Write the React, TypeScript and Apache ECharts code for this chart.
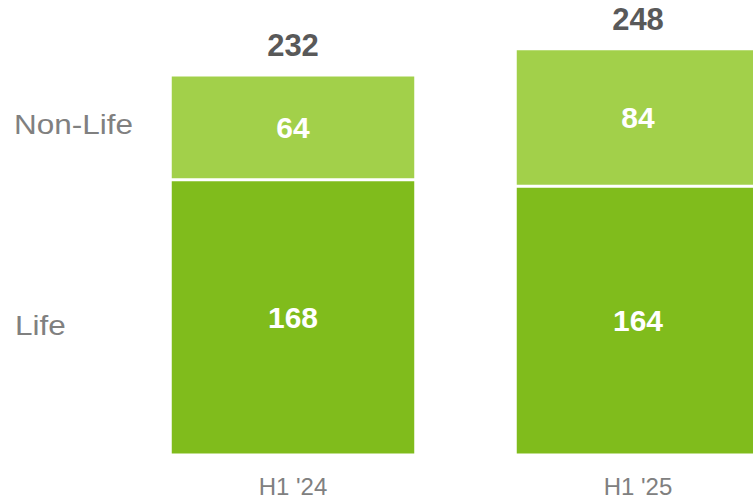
import React, { useEffect, useRef } from "react";
import * as echarts from "echarts";

const categories = ["H1 '24", "H1 '25"];
const seriesNames = ["Life", "Non-Life"];
const lifeValues = [168, 164];
const nonLifeValues = [64, 84];
const totals = [232, 248];

export default function App() {
  const ref = useRef<HTMLDivElement>(null);
  useEffect(() => {
    if (!ref.current) return;
    const chart = echarts.init(ref.current, null, { renderer: "svg" });
    const font = "'Liberation Sans', Arial, sans-serif";
    const innerLabel = {
      show: true,
      position: "inside",
      color: "#ffffff",
      fontSize: 30,
      fontWeight: "bold",
      fontFamily: font,
    };
    chart.setOption({
      animation: false,
      backgroundColor: "#ffffff",
      grid: { left: 293, right: 115, top: 45.5, height: 409.5 },
      xAxis: {
        type: "category",
        data: categories,
        boundaryGap: false,
        axisLine: { show: false },
        axisTick: { show: false },
        splitLine: { show: false },
        axisLabel: { color: "#808080", fontSize: 24, fontFamily: font, margin: 19 },
      },
      yAxis: { type: "value", min: 0, max: 250, show: false, splitLine: { show: false } },
      graphic: [
        {
          type: "text",
          x: 14,
          y: 110,
          scaleX: 1.125,
          style: { text: seriesNames[1], fill: "#808080", fontSize: 28, fontFamily: font, verticalAlign: "top" },
        },
        {
          type: "text",
          x: 15,
          y: 311,
          scaleX: 1.125,
          style: { text: seriesNames[0], fill: "#808080", fontSize: 28, fontFamily: font, verticalAlign: "top" },
        },
      ],
      series: [
        {
          name: seriesNames[0],
          type: "bar",
          stack: "total",
          barWidth: 245.5,
          clip: false,
          data: lifeValues,
          itemStyle: { color: "#80BC1C", borderColor: "#ffffff", borderWidth: 1.5 },
          label: innerLabel,
        },
        {
          name: seriesNames[1],
          type: "bar",
          stack: "total",
          barWidth: 245.5,
          clip: false,
          data: nonLifeValues,
          itemStyle: { color: "#A2D04A", borderColor: "#ffffff", borderWidth: 1.5 },
          label: innerLabel,
        },
        {
          name: "Total",
          type: "bar",
          stack: "total",
          barWidth: 245.5,
          clip: false,
          data: totals.map(() => 0),
          itemStyle: { color: "transparent" },
          label: {
            show: true,
            position: "top",
            distance: 14,
            color: "#595959",
            fontSize: 31,
            fontWeight: "bold",
            fontFamily: font,
            formatter: (p: any) => String(totals[p.dataIndex]),
          },
        },
      ],
    });
    return () => chart.dispose();
  }, []);
  return <div ref={ref} style={{ width: 753, height: 500, position: "fixed", left: 0, top: 0 }} />;
}
